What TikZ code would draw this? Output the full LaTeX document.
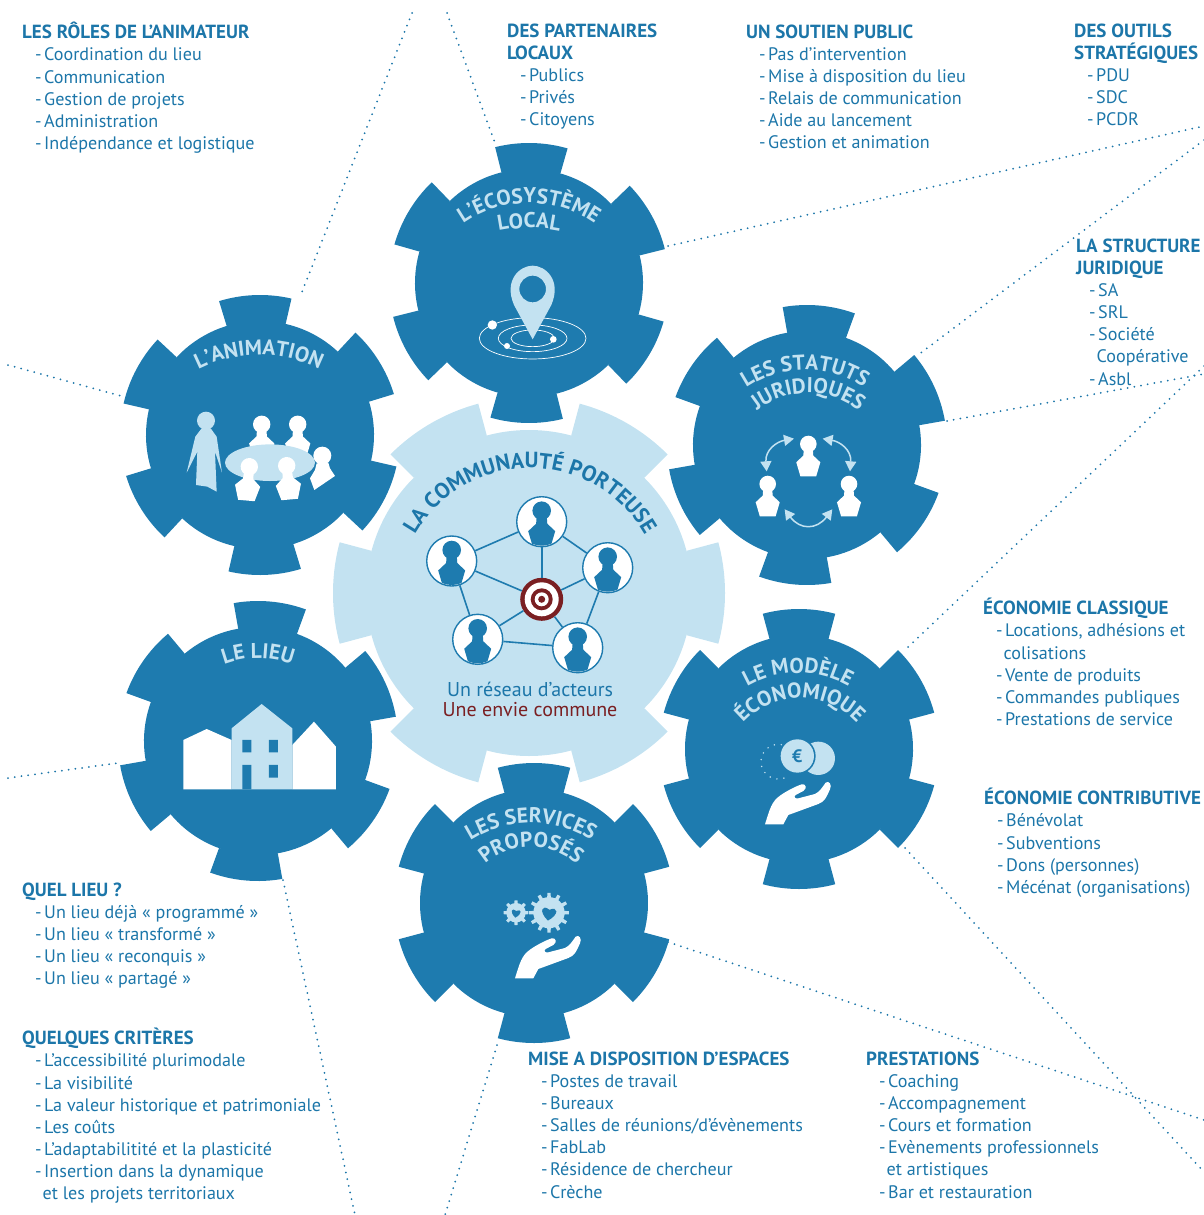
\documentclass[tikz,border=0pt]{standalone}
\usepackage{fontspec}
\usepackage{xcolor}
\setmainfont{PT Sans}
\usetikzlibrary{decorations.text,arrows.meta}
\definecolor{gearblue}{HTML}{1E7BAF}
\definecolor{textblue}{HTML}{1C76A9}
\definecolor{paleblue}{HTML}{C3E2F1}
\definecolor{darkred}{HTML}{7A1F22}
\newcommand{\infofont}{\fontsize{18.1}{22.15}\selectfont}
\newcommand{\curvefont}{\fontsize{21.4}{23}\selectfont\bfseries\color{paleblue}}
\newcommand{\hd}[1]{\rule{0pt}{15pt}{\fontsize{19}{22.15}\selectfont\bfseries #1}}
\newcommand{\itm}[1]{\hspace*{13pt}-\hspace{2.5pt}#1}
\newcommand{\cnt}[1]{\hspace*{20.5pt}#1}
% gear: x, y, rotation, inner radius, outer radius, colour
\newcommand{\gear}[6]{%
	\begin{scope}[shift={(#1,#2)},y=1pt,rotate=#3]
		\fill[#6] (0,0) circle (#4pt);
		\foreach \a in {0,60,...,300}
			\fill[#6] (\a-15:#4pt) -- (\a-15:#5pt) arc[start angle=\a-15,end angle=\a+15,radius=#5pt] -- (\a+15:#4pt) -- cycle;
	\end{scope}}
% text on an arc: centre x, y, radius, text
\newcommand{\arclabel}[4]{%
	\begin{scope}[shift={(#1,#2)},y=1pt]
		\path[decorate,decoration={text along path,text={#4},text align=center}] (170:#3pt) arc[start angle=170,end angle=10,radius=#3pt];
	\end{scope}}
% person: [options], position, head radius, colour
\newcommand{\person}[4][]{%
	\begin{scope}[shift={#2},x=#3pt,y=-#3pt,#1]
		\fill[#4] (0,0) circle (1);
		\fill[#4] (-.55,.7) -- (.55,.7) -- (.6,1.4) -- (1.45,2.2) -- (.95,3.9) -- (-.95,3.9) -- (-1.45,2.2) -- (-.6,1.4) -- cycle;
	\end{scope}}
\newcommand{\actor}[3]{%
	\node[actorcircle] (#1) at (#2,#3) {};
	\begin{scope}
		\clip (#2,#3) circle (24pt);
		\person{(#2,#3-11)}{9.3}{gearblue}
	\end{scope}}
\newcommand{\openhand}[1]{%
	\begin{scope}[shift={#1},zoomed]
		\fill[white] (330,658) .. controls (345,610) and (350,590) .. (375,572) .. controls (395,558) and (420,545) .. (440,538) .. controls (452,535) and (458,550) .. (445,558) -- (422,570) .. controls (415,575) and (420,582) .. (430,580) -- (480,567) .. controls (495,560) and (503,545) .. (512,533) .. controls (522,525) and (532,540) .. (525,553) .. controls (515,575) and (510,590) .. (490,597) -- (400,630) -- (385,658) -- cycle;
	\end{scope}}
% small cog with a heart: x, y, radius, teeth
\newcommand{\cog}[4]{%
	\begin{scope}[shift={(#1,#2)},y=1pt]
		\fill[paleblue] (0,0) circle (#3*.78pt);
		\pgfmathsetmacro{\half}{90/#4}
		\foreach \i in {1,...,#4}
			\fill[paleblue] (\i*360/#4-\half:#3*.72pt) -- (\i*360/#4-\half*.6:#3pt) -- (\i*360/#4+\half*.6:#3pt) -- (\i*360/#4+\half:#3*.72pt) -- cycle;
	\end{scope}
	\begin{scope}[shift={(#1,#2)},x=#3*.42pt,y=-#3*.42pt,rotate=-8]
		\fill[gearblue] (0,.95) .. controls (-1.3,0) and (-.95,-.95) .. (0,-.35) .. controls (.95,-.95) and (1.3,0) .. (0,.95) -- cycle;
	\end{scope}}
\tikzset{
	zoomed/.style={x=.3333pt,y=-.3333pt},
	leader/.style={draw=textblue,line width=2pt,line cap=round,dash pattern=on 0pt off 6.8pt},
	infotext/.style={anchor=north west,inner sep=0pt,align=left,text=textblue,font=\infofont},
	actorcircle/.style={circle,draw=gearblue,fill=white,line width=1.4pt,minimum size=50pt,inner sep=0pt},
	actorlink/.style={draw=gearblue,line width=1.6pt}
}
\begin{document}
\begin{tikzpicture}[x=1pt,y=-1pt]
	\useasboundingbox (0,0) rectangle (1204,1215);
	% ends of the dotted leaders
	\foreach \n/\x/\y in {a1/412/13,a2/300/297,b1/447/13,b2/495/143,c1/668/246,c2/1204/126,
		d1/1204/140,d2/918/355,e1/947/421,e2/1204/374,f1/1204/366,f2/905/650,
		g1/905/848,g2/1204/1172,h1/668/942,h2/1204/1120,i1/497/1045,i2/445/1215,
		j1/283/880,j2/355/1215,k1/8/365,k2/125/397,l1/8/778,l2/118/763}
		\coordinate (\n) at (\x,\y);
	\foreach \p/\q in {a1/a2,b1/b2,c1/c2,d1/d2,e1/e2,f1/f2,g1/g2,h1/h2,i1/i2,j1/j2,k1/k2,l1/l2}
		\draw[leader] (\p) -- (\q);
	% gears
	\gear{529}{593}{0}{163}{196}{paleblue}
	\gear{529}{283}{29}{114}{140}{gearblue}
	\gear{260}{435}{32}{114}{140}{gearblue}
	\gear{807}{445}{25}{114}{140}{gearblue}
	\gear{258}{741}{25}{114}{140}{gearblue}
	\gear{799}{749}{30}{114}{140}{gearblue}
	\gear{534}{903}{30}{114}{140}{gearblue}
	% gear titles
	\arclabel{529}{318}{115}{|\curvefont|L’ÉCOSYSTÈME}
	\arclabel{529}{378}{150}{|\curvefont|LOCAL}
	\arclabel{259}{489}{134}{|\curvefont|L’ANIMATION}
	\arclabel{805}{476}{106}{|\curvefont|LES STATUTS}
	\arclabel{808}{475}{82}{|\curvefont|JURIDIQUES}
	\arclabel{258}{754}{96}{|\curvefont|LE LIEU}
	\arclabel{798}{775}{102}{|\curvefont|LE MODÈLE}
	\arclabel{800}{775}{77}{|\curvefont|ÉCONOMIQUE}
	\arclabel{531}{936}{113}{|\curvefont|LES SERVICES}
	\arclabel{531}{917}{70}{|\curvefont|PROPOSÉS}
	\arclabel{530}{600}{132}{|\fontsize{22}{24}\selectfont\bfseries\color{textblue}|LA COMMUNAUTÉ  PORTEUSE}
	% pin
	\begin{scope}[shift={(390,130)},zoomed]
		\draw[white,line width=.7pt] (428,625) ellipse (160 and 62) (428,625) ellipse (103 and 40) (428,625) ellipse (65 and 25);
		\fill[paleblue,even odd rule] (428,628) -- (372,525) .. controls (340,450) and (390,407) .. (428,407) .. controls (466,407) and (516,450) .. (484,525) -- cycle (428,477) circle (40);
		\fill[white] (307,585) circle (14) (490,628) circle (10) (351,648) circle (9);
	\end{scope}
	% animation
	\begin{scope}[shift={(120,290)},zoomed]
		\fill[paleblue] (258,392) circle (27);
		\fill[paleblue] (245,415) -- (272,415) -- (290,440) -- (306,548) -- (285,485) -- (290,605) -- (262,590) -- (228,585) -- (232,485) -- (200,548) -- (226,440) -- cycle;
	\end{scope}
	\person{(261.7,424.3)}{8.7}{white}
	\person{(297.7,424.3)}{8.7}{white}
	\fill[paleblue] (270,462.7) ellipse (45 and 18.3);
	\person[rotate=-5]{(249.3,466.7)}{8.7}{white}
	\person[rotate=5]{(286.7,465.7)}{8.7}{white}
	\begin{scope}[shift={(120,290)},zoomed]
		\fill[white] (607,497) circle (27);
		\fill[white] (590,520) -- (625,518) -- (630,535) -- (645,558) -- (583,600) -- (570,565) -- (585,540) -- cycle;
	\end{scope}
	% statuts
	\person{(808.3,444)}{8.3}{white}
	\person{(767.7,484)}{8.3}{white}
	\person{(849,484)}{8.3}{white}
	\begin{scope}[shift={(660,300)},zoomed,draw=paleblue,line width=1.5pt,{Triangle[length=10pt,width=11pt]}-{Triangle[length=10pt,width=11pt]}]
		\draw (402,416) .. controls (350,425) and (315,450) .. (320,514);
		\draw (488,416) .. controls (540,425) and (575,450) .. (570,514);
		\draw (374,628) .. controls (420,690) and (470,690) .. (517,628);
	\end{scope}
	% lieu
	\begin{scope}[shift={(110,595)},zoomed]
		\fill[white] (220,583) -- (220,435) -- (290,402) -- (365,435) -- (365,583) -- cycle;
		\fill[white] (547,583) -- (547,450) -- (612,380) -- (678,455) -- (678,583) -- cycle;
		\fill[paleblue] (365,583) -- (365,400) -- (455,327) -- (547,400) -- (547,583) -- cycle;
		\fill[gearblue] (397,435) rectangle (424,472) (477,435) rectangle (504,472) (477,510) rectangle (504,548) (397,510) rectangle (424,583);
	\end{scope}
	% modele
	\begin{scope}[shift={(655,605)},zoomed]
		\draw[paleblue,line width=1.6pt,line cap=round,dash pattern=on 0pt off 7pt] (379,419) arc[start angle=-80,end angle=-300,radius=52];
		\fill[paleblue] (490,460) circle (50);
		\fill[gearblue] (427,453) circle (55);
		\fill[paleblue] (427,453) circle (50);
		\node[text=gearblue,font=\fontsize{18}{18}\selectfont\bfseries] (euro) at (427,453) {€};
	\end{scope}
	\openhand{(655,605)}
	% services
	\cog{516}{912.7}{12.5}{8}
	\cog{549}{912.7}{20}{12}
	\openhand{(405,759)}
	% network
	\actor{actTop}{541.7}{521.7}
	\actor{actRight}{607.7}{567.7}
	\actor{actLowR}{577.7}{647.7}
	\actor{actLowL}{477.7}{639.3}
	\actor{actLeft}{451.7}{561}
	\node[circle,fill=darkred,minimum size=43pt,inner sep=0pt] (target) at (541.7,599.3) {};
	\fill[white] (target.center) circle (17pt);
	\fill[darkred] (target.center) circle (11pt);
	\fill[white] (target.center) circle (7pt);
	\fill[darkred] (target.center) circle (3.5pt);
	\foreach \p/\q in {actTop/actRight,actRight/actLowR,actLowR/actLowL,actLowL/actLeft,actLeft/actTop,
		actTop/target,actRight/target,actLowR/target,actLowL/target,actLeft/target}
		\draw[actorlink] (\p) -- (\q);
	\node[text=textblue,font=\fontsize{20}{20}\selectfont] (reseau) at (530,689) {Un réseau d’acteurs};
	\node[text=darkred,font=\fontsize{20}{20}\selectfont] (envie) at (530,710) {Une envie commune};
	% text blocks
	\node[infotext] (roles) at (22,22) {\hd{LES RÔLES DE L’ANIMATEUR}\\\itm{Coordination du lieu}\\\itm{Communication}\\\itm{Gestion de projets}\\\itm{Administration}\\\itm{Indépendance et logistique}};
	\node[infotext] (partenaires) at (507,22) {\hd{DES PARTENAIRES}\\\hd{LOCAUX}\\\itm{Publics}\\\itm{Privés}\\\itm{Citoyens}};
	\node[infotext] (soutien) at (746,23) {\hd{UN SOUTIEN PUBLIC}\\\itm{Pas d’intervention}\\\itm{Mise à disposition du lieu}\\\itm{Relais de communication}\\\itm{Aide au lancement}\\\itm{Gestion et animation}};
	\node[infotext] (outils) at (1074,22) {\hd{DES OUTILS}\\\hd{STRATÉGIQUES}\\\itm{PDU}\\\itm{SDC}\\\itm{PCDR}};
	\node[infotext] (structure) at (1076,237) {\hd{LA STRUCTURE}\\\hd{JURIDIQUE}\\\itm{SA}\\\itm{SRL}\\\itm{Société}\\\cnt{Coopérative}\\\itm{Asbl}};
	\node[infotext] (classique) at (983,598) {\hd{ÉCONOMIE CLASSIQUE}\\\itm{Locations, adhésions et}\\\cnt{colisations}\\\itm{Vente de produits}\\\itm{Commandes publiques}\\\itm{Prestations de service}};
	\node[infotext] (contributive) at (984,788) {\hd{ÉCONOMIE CONTRIBUTIVE}\\\itm{Bénévolat}\\\itm{Subventions}\\\itm{Dons (personnes)}\\\itm{Mécénat (organisations)}};
	\node[infotext] (quellieu) at (22,881) {\hd{QUEL LIEU ?}\\\itm{Un lieu déjà « programmé »}\\\itm{Un lieu « transformé »}\\\itm{Un lieu « reconquis »}\\\itm{Un lieu « partagé »}};
	\node[infotext] (criteres) at (22,1028) {\hd{QUELQUES CRITÈRES}\\\itm{L’accessibilité plurimodale}\\\itm{La visibilité}\\\itm{La valeur historique et patrimoniale}\\\itm{Les coûts}\\\itm{L’adaptabilitité et la plasticité}\\\itm{Insertion dans la dynamique}\\\cnt{et les projets territoriaux}};
	\node[infotext] (espaces) at (528,1050) {\hd{MISE A DISPOSITION D’ESPACES}\\\itm{Postes de travail}\\\itm{Bureaux}\\\itm{Salles de réunions/d’évènements}\\\itm{FabLab}\\\itm{Résidence de chercheur}\\\itm{Crèche}};
	\node[infotext] (prestations) at (866,1050) {\hd{PRESTATIONS}\\\itm{Coaching}\\\itm{Accompagnement}\\\itm{Cours et formation}\\\itm{Evènements professionnels}\\\cnt{et artistiques}\\\itm{Bar et restauration}};
\end{tikzpicture}
\end{document}
